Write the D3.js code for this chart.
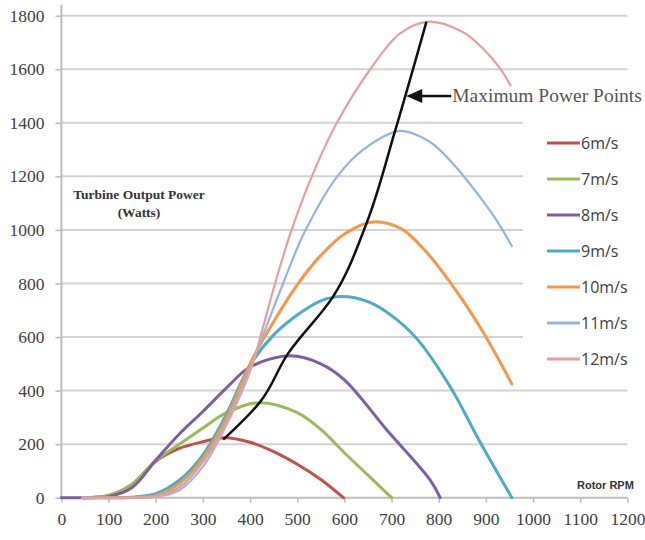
<!DOCTYPE html>
<html lang="en">
<head>
<meta charset="UTF-8">
<title>Turbine Output Power</title>
<style>
  body { margin: 0; background: #fff; }
  svg { display: block; }
</style>
</head>
<body>
<div class="canvas"></div>
<script src="https://cdnjs.cloudflare.com/ajax/libs/d3/7.8.5/d3.min.js"></script>
<script>
// values: [rotor rpm, output watts]
const windSpeeds = ['6m/s', '7m/s', '8m/s', '9m/s', '10m/s', '11m/s', '12m/s'];

const p6 = [[45,0],[100,8],[150,50],[200,136],[250,184],[300,209],[345,224],[400,207],[450,172],[500,125],[550,68],[598,0]];
const p7 = [[45,0],[100,8],[150,50],[200,138],[250,200],[300,260],[350,318],[420,355],[500,318],[550,255],[600,168],[650,84],[700,0]];
const p8 = [[0,0],[45,0],[100,4],[150,38],[200,140],[250,238],[300,322],[350,410],[400,488],[485,530],[550,500],[600,440],[690,253],[782,66],[803,0]];
const p9 = [[45,0],[150,2],[200,15],[250,65],[300,160],[350,312],[400,495],[450,608],[500,682],[550,735],[594,751],[650,732],[700,680],[753,595],[824,415],[887,210],[955,0]];
const p10 = [[45,0],[150,1],[200,8],[250,52],[300,148],[350,298],[400,500],[430,598],[500,795],[550,905],[600,985],[660,1030],[720,1005],[770,925],[824,805],[887,639],[955,425]];
const p11 = [[45,0],[150,0],[200,5],[250,38],[300,133],[350,283],[400,484],[425,595],[470,800],[515,990],[585,1200],[640,1300],[718,1370],[780,1330],[834,1240],[880,1140],[923,1035],[955,940]];
const p12 = [[45,0],[150,0],[200,3],[250,28],[300,116],[350,272],[400,472],[421,595],[453,800],[488,1000],[531,1200],[584,1400],[655,1600],[718,1734],[780,1778],[850,1740],[894,1677],[930,1603],[952,1540]];
const series = [p6, p7, p8, p9, p10, p11, p12];

// maximum power point track
const mpp = [[343,217],[421,357],[480,537],[576,751],[647,1025],[707,1367],[774,1778]];
const mppLabel = {rpm: 729, watts: 1500, text: 'Maximum Power Points'};

const xTicks = [0,100,200,300,400,500,600,700,800,900,1000,1100,1200];
const yTicks = [0,200,400,600,800,1000,1200,1400,1600,1800];

const colors = ['#c0504d','#9bbb59','#7d5fa3','#4bacc6','#f79646','#93b5de','#e6a0a0'];
const widths = [3, 3, 3, 3, 3, 2.2, 2.2];

// svg + dims
const svg = d3.select('.canvas')
  .append('svg')
    .attr('width', 645)
    .attr('height', 540);

const margin = {top: 15.7, left: 61.4};
const graphWidth = 566;
const graphHeight = 482;

const graph = svg.append('g')
  .attr('transform', `translate(${margin.left}, ${margin.top})`);

const x = d3.scaleLinear().domain([0, 1200]).range([0, graphWidth]);
const y = d3.scaleLinear().domain([0, 1800]).range([graphHeight, 0]);

// gridlines
graph.append('g')
  .selectAll('line')
  .data(yTicks.filter(d => d > 0))
  .enter().append('line')
    .attr('x1', 0)
    .attr('x2', graphWidth)
    .attr('y1', d => y(d))
    .attr('y2', d => y(d))
    .attr('stroke', '#d3d3d3')
    .attr('stroke-width', 2);

// axes
const yAxis = d3.axisLeft(y).tickValues(yTicks).tickFormat(d3.format('d'))
  .tickSize(6).tickPadding(11).tickSizeOuter(0);
const xAxis = d3.axisBottom(x).tickValues(xTicks).tickFormat(d3.format('d'))
  .tickSize(5).tickPadding(10).tickSizeOuter(0);

const yAxisGroup = graph.append('g').call(yAxis);
const xAxisGroup = graph.append('g')
  .attr('transform', `translate(0, ${graphHeight})`)
  .call(xAxis);

[yAxisGroup, xAxisGroup].forEach(g => {
  g.select('.domain').remove();
  g.selectAll('line').attr('stroke', '#bdbdbd').attr('stroke-width', 1.5);
  g.selectAll('text')
    .attr('fill', '#404040')
    .style('font-family', '"Liberation Serif", "Times New Roman", serif')
    .style('font-size', '17.5px');
});

// axis lines
graph.append('line')
  .attr('x1', 0).attr('x2', 0)
  .attr('y1', -11).attr('y2', graphHeight)
  .attr('stroke', '#bdbdbd').attr('stroke-width', 2);
graph.append('line')
  .attr('x1', 0).attr('x2', graphWidth)
  .attr('y1', graphHeight).attr('y2', graphHeight)
  .attr('stroke', '#bdbdbd').attr('stroke-width', 2);

// legend box hides gridlines behind it
svg.append('rect')
  .attr('x', 523).attr('y', 105)
  .attr('width', 122).attr('height', 272)
  .attr('fill', '#fff');

// power curves
const line = d3.line()
  .x(d => x(d[0]))
  .y(d => y(d[1]))
  .curve(d3.curveCatmullRom.alpha(0.5));

graph.selectAll('path.curve')
  .data(series)
  .enter().append('path')
    .attr('class', 'curve')
    .attr('d', line)
    .attr('fill', 'none')
    .attr('stroke', (d, i) => colors[i])
    .attr('stroke-width', (d, i) => widths[i])
    .attr('stroke-linecap', 'round');

// max power point line
graph.append('path')
  .datum(mpp)
  .attr('d', d3.line().x(d => x(d[0])).y(d => y(d[1])).curve(d3.curveMonotoneY))
  .attr('fill', 'none')
  .attr('stroke', '#111')
  .attr('stroke-width', 2.5);

// arrow + label
const ax = x(mppLabel.rpm) + 1;
const ay = y(mppLabel.watts);
graph.append('path')
  .attr('d', `M${ax},${ay} L${ax + 16},${ay - 7} L${ax + 16},${ay + 7} Z`)
  .attr('fill', '#111');
graph.append('line')
  .attr('x1', ax + 14).attr('x2', ax + 45)
  .attr('y1', ay).attr('y2', ay)
  .attr('stroke', '#111').attr('stroke-width', 2.5);
graph.append('text')
  .attr('x', ax + 46)
  .attr('y', ay + 6)
  .attr('fill', '#555')
  .style('font-family', '"Liberation Serif", "Times New Roman", serif')
  .style('font-size', '19.5px')
  .text(mppLabel.text);

// legend
const legend = svg.append('g')
  .attr('transform', 'translate(547, 143)');

const rows = legend.selectAll('g')
  .data(windSpeeds)
  .enter().append('g')
    .attr('transform', (d, i) => `translate(0, ${i * 36})`);

rows.append('line')
  .attr('x1', 0).attr('x2', 33)
  .attr('stroke', (d, i) => colors[i])
  .attr('stroke-width', 3);

rows.append('text')
  .attr('x', 34)
  .attr('dy', '0.35em')
  .attr('fill', '#404040')
  .style('font-family', '"Open Sans", sans-serif')
  .style('font-size', '16px')
  .text(d => d);

// axis titles
const yTitle = svg.append('text')
  .attr('text-anchor', 'middle')
  .attr('fill', '#333')
  .style('font-family', '"Liberation Serif", "Times New Roman", serif')
  .style('font-size', '13.5px')
  .style('font-weight', 'bold');
yTitle.append('tspan').attr('x', 139).attr('y', 199).text('Turbine Output Power');
yTitle.append('tspan').attr('x', 139).attr('y', 217).text('(Watts)');

svg.append('text')
  .attr('x', 577)
  .attr('y', 489)
  .attr('fill', '#333')
  .style('font-family', '"Liberation Sans", Arial, sans-serif')
  .style('font-size', '11px')
  .style('font-weight', 'bold')
  .text('Rotor RPM');
</script>
</body>
</html>
